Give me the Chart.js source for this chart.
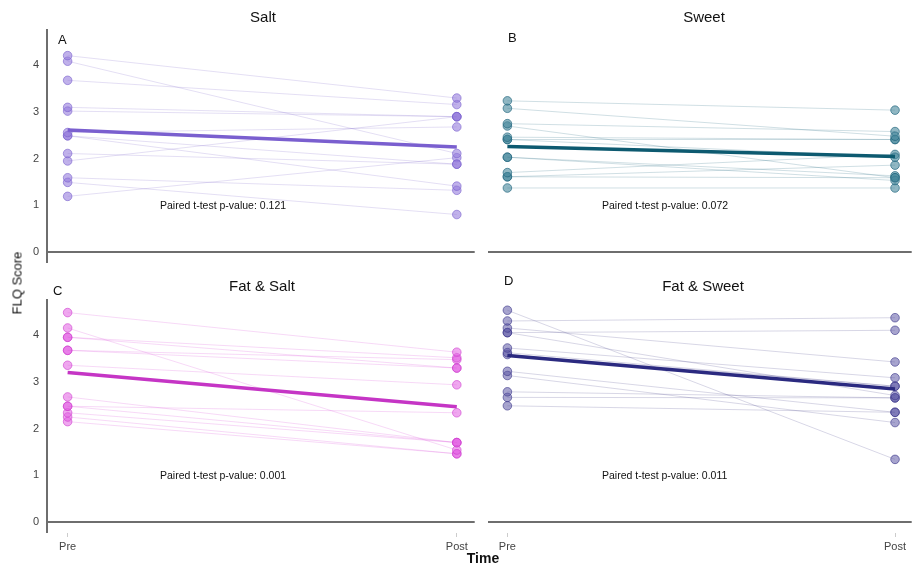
<!DOCTYPE html>
<html>
<head>
<meta charset="utf-8">
<script src="https://cdn.jsdelivr.net/npm/chart.js@4.4.1/dist/chart.umd.min.js"></script>
<style>
  html, body { margin:0; padding:0; background:#fff; }
  body { width:917px; height:566px; position:relative; overflow:hidden; font-family:"Liberation Sans", Arial, sans-serif; }
  .cv { position:absolute; }
  .t { position:absolute; white-space:nowrap; color:#111; }
  .title { font-size:15px; transform:translateX(-50%); }
  .lab { font-size:13px; }
  .pv { font-size:10.5px; color:#111; }
</style>
</head>
<body>
<canvas id="cA" class="cv" style="left:0;top:0" width="480" height="270"></canvas>
<canvas id="cB" class="cv" style="left:480px;top:0" width="437" height="270"></canvas>
<canvas id="cC" class="cv" style="left:0;top:270px" width="480" height="296"></canvas>
<canvas id="cD" class="cv" style="left:480px;top:270px" width="437" height="296"></canvas>

<div class="t title" style="left:263px;top:8px">Salt</div>
<div class="t title" style="left:704px;top:8px">Sweet</div>
<div class="t title" style="left:262px;top:277px">Fat &amp; Salt</div>
<div class="t title" style="left:703px;top:277px">Fat &amp; Sweet</div>
<div class="t lab" style="left:58px;top:32px">A</div>
<div class="t lab" style="left:508px;top:30px">B</div>
<div class="t lab" style="left:53px;top:283px">C</div>
<div class="t lab" style="left:504px;top:273px">D</div>
<div class="t pv" style="left:160px;top:199px">Paired t-test p-value: 0.121</div>
<div class="t pv" style="left:602px;top:199px">Paired t-test p-value: 0.072</div>
<div class="t pv" style="left:160px;top:469px">Paired t-test p-value: 0.001</div>
<div class="t pv" style="left:602px;top:469px">Paired t-test p-value: 0.011</div>
<div class="t" style="left:17px;top:283px;font-size:13px;transform:translate(-50%,-50%) rotate(-90deg)">FLQ Score</div>
<div class="t" style="left:483px;top:550px;font-size:14px;font-weight:bold;transform:translateX(-50%)">Time</div>

<script>
// ---- data ----
const timeLabels = ["Pre", "Post"];
const yTicks = [0, 1, 2, 3, 4];

const saltPre  = [4.21, 4.09, 3.68, 3.10, 3.02, 2.56, 2.49, 2.49, 2.11, 1.95, 1.59, 1.49, 1.19];
const saltPost = [3.30, 2.11, 3.16, 2.90, 2.90, 2.68, 1.88, 1.41, 1.88, 2.90, 1.32, 0.80, 2.02];

const sweetPre  = [3.24, 3.08, 2.75, 2.70, 2.46, 2.41, 2.41, 2.03, 2.03, 1.70, 1.61, 1.61, 1.37];
const sweetPost = [3.04, 2.48, 2.58, 1.59, 2.41, 2.41, 2.03, 1.53, 1.63, 2.09, 1.86, 1.59, 1.37];

const fatSaltPre  = [4.49, 4.16, 3.96, 3.96, 3.68, 3.68, 3.36, 2.68, 2.48, 2.48, 2.34, 2.25, 2.15];
const fatSaltPost = [3.64, 1.54, 3.52, 3.30, 3.48, 3.30, 2.94, 1.70, 2.34, 1.70, 1.70, 1.46, 1.46];

const fatSweetPre  = [4.54, 4.31, 4.16, 4.06, 4.06, 3.73, 3.63, 3.59, 3.23, 3.14, 2.79, 2.67, 2.49];
const fatSweetPost = [1.34, 4.38, 3.43, 4.11, 2.71, 3.09, 2.91, 2.91, 2.35, 2.13, 2.66, 2.66, 2.35];

// ---- helpers ----
const mean = a => a.reduce((s, v) => s + v, 0) / a.length;

function makePanel(id, pre, post, col, opts) {
  const datasets = [];
  for (let i = 0; i < pre.length; i++) {
    datasets.push({
      data: [{x: 0, y: pre[i]}, {x: 1, y: post[i]}],
      borderColor: col.line,
      borderWidth: 1,
      pointRadius: 4.3,
      pointBackgroundColor: col.pt,
      pointBorderColor: col.ptb,
      pointBorderWidth: 1,
      order: 2
    });
  }
  datasets.push({
    data: [{x: 0, y: mean(pre)}, {x: 1, y: mean(post)}],
    borderColor: col.mean,
    borderWidth: 3.5,
    pointRadius: 0,
    order: 1
  });
  new Chart(document.getElementById(id), {
    type: 'line',
    data: { datasets },
    options: {
      responsive: false,
      animation: false,
      layout: { padding: opts.padding },
      plugins: { legend: { display: false }, tooltip: { enabled: false } },
      scales: {
        x: {
          type: 'linear',
          min: opts.xmin, max: opts.xmax,
          display: opts.showX,
          afterBuildTicks: s => { s.ticks = [{value: 0}, {value: 1}]; },
          afterFit: s => { if (opts.showX) s.height = 20; s.paddingLeft = 0; s.paddingRight = 0; },
          ticks: {
            callback: v => timeLabels[v],
            color: '#444', font: { size: 11, family: 'Liberation Sans' }, padding: 3,
            maxRotation: 0, autoSkip: false
          },
          grid: { drawOnChartArea: false, drawTicks: true, tickLength: 4, color: '#ccc' },
          border: { display: false }
        },
        y: {
          type: 'linear',
          min: -0.24, max: 4.76,
          afterBuildTicks: s => { s.ticks = [{value: -0.24}].concat(yTicks.map(v => ({value: v}))); },
          afterFit: s => { s.width = opts.yWidth; s.paddingTop = 0; s.paddingBottom = 0; },
          ticks: {
            display: opts.showY,
            callback: v => yTicks.includes(v) ? String(v) : '',
            color: '#444', font: { size: 11, family: 'Liberation Sans' }, padding: 8
          },
          grid: {
            drawTicks: false,
            color: c => (c.tick && c.tick.value === 0) ? '#6e6e6e' : 'rgba(0,0,0,0)',
            lineWidth: c => (c.tick && c.tick.value === 0) ? 2 : 0
          },
          border: { display: opts.showY, color: '#6e6e6e', width: 2 }
        }
      }
    }
  });
}

const cSalt = { line: 'rgba(120,95,200,0.2)', pt: 'rgba(150,125,220,0.6)', ptb: 'rgba(120,95,205,0.6)', mean: '#7a5fcf' };
const cSweet = { line: 'rgba(40,110,130,0.22)', pt: 'rgba(70,135,155,0.6)', ptb: 'rgba(30,100,125,0.65)', mean: '#0d5a70' };
const cFS = { line: 'rgba(220,80,220,0.22)', pt: 'rgba(225,95,225,0.55)', ptb: 'rgba(205,60,205,0.6)', mean: '#c535c5' };
const cFSw = { line: 'rgba(60,55,130,0.2)', pt: 'rgba(95,90,165,0.55)', ptb: 'rgba(55,50,135,0.6)', mean: '#2b2a80' };

makePanel('cA', saltPre, saltPost, cSalt,
  { padding: {left: 0, right: 3, top: 30, bottom: 7}, xmin: -0.053, xmax: 1.046, showX: false, showY: true, yWidth: 47 });
makePanel('cB', sweetPre, sweetPost, cSweet,
  { padding: {left: 8, right: 0, top: 30, bottom: 7}, xmin: -0.05, xmax: 1.043, showX: false, showY: false, yWidth: 0 });
makePanel('cC', fatSaltPre, fatSaltPost, cFS,
  { padding: {left: 0, right: 3, top: 30, bottom: 13}, xmin: -0.053, xmax: 1.046, showX: true, showY: true, yWidth: 47 });
makePanel('cD', fatSweetPre, fatSweetPost, cFSw,
  { padding: {left: 8, right: 0, top: 30, bottom: 13}, xmin: -0.05, xmax: 1.043, showX: true, showY: false, yWidth: 0 });
</script>
</body>
</html>
